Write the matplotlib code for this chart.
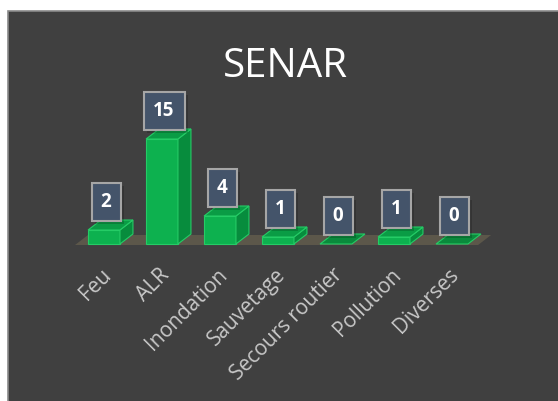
import matplotlib
matplotlib.use("Agg")
import matplotlib.pyplot as plt
from matplotlib.patches import Polygon, Rectangle

categories = ["Feu", "ALR", "Inondation", "Sauvetage", "Secours routier", "Pollution", "Diverses"]
values = [2, 15, 4, 1, 0, 1, 0]
title = "SENAR"

W, H = 558, 401
fig = plt.figure(figsize=(W / 100, H / 100), dpi=100, facecolor="white")

ax = fig.add_axes([0, 0, 1, 1])
ax.set_axis_off()
ax.patch.set_alpha(0)

# chart area background with border
ax.add_patch(Rectangle((8 / W, -0.01), 1.0, (H - 11) / H + 0.01, transform=fig.transFigure,
                       facecolor="#404040", edgecolor="#8a8a8a", linewidth=1.2, zorder=0, clip_on=False))

# pixel mapping: category 0 center at x=104px, 58px per category; value 0 at y=244px (from top), 7px per unit
px_cat, x0px = 58.0, 104.0
px_val, y0px = 7.0, 244.0
ax.set_xlim(-x0px / px_cat, (W - x0px) / px_cat)
ax.set_ylim(-(H - y0px) / px_val, y0px / px_val)

w = 0.55          # bar front width (category units)
dx = 13 / px_cat  # depth offset x
dy = 10 / px_val  # depth offset y

# floor
fl, fr = -0.5, 6.45
fy = -1 / px_val
ax.add_patch(Polygon([(fl, fy), (fr, fy), (fr + dx, fy + dy), (fl + dx, fy + dy)], closed=True,
                     facecolor="#5c574a", edgecolor="none", zorder=1))

front_c, side_c, top_c, edge_c = "#0db14f", "#078c3d", "#0a9c45", "#25cc66"
for i, v in enumerate(values):
    xl, xr = i - w / 2, i + w / 2
    if v > 0:
        ax.add_patch(Polygon([(xl, 0), (xr, 0), (xr, v), (xl, v)], closed=True,
                             facecolor=front_c, edgecolor=edge_c, linewidth=0.8, zorder=3))
        ax.add_patch(Polygon([(xr, 0), (xr + dx, dy), (xr + dx, v + dy), (xr, v)], closed=True,
                             facecolor=side_c, edgecolor=edge_c, linewidth=0.8, zorder=3))
    ax.add_patch(Polygon([(xl, v), (xr, v), (xr + dx, v + dy), (xl + dx, v + dy)], closed=True,
                         facecolor=top_c if v > 0 else "#0a8a3c", edgecolor=edge_c, linewidth=0.8, zorder=3))

# value label boxes
bh = 38 / px_val
for i, v in enumerate(values):
    s = str(v)
    bw = (29 if len(s) == 1 else 41) / px_cat
    cx = i + 2 / px_cat
    by = v + dy - 1 / px_val
    ax.add_patch(Rectangle((cx - bw / 2 + 3 / px_cat, by - 3 / px_val), bw, bh,
                           facecolor="black", alpha=0.18, edgecolor="none", zorder=4))
    ax.add_patch(Rectangle((cx - bw / 2, by), bw, bh, facecolor="#44546a",
                           edgecolor="#a6a6a6", linewidth=1.5, zorder=5))
    ax.text(cx, by + bh / 2, s, ha="center", va="center", color="white",
            fontsize=13.5, fontweight="bold", family="Open Sans", zorder=6)

# category labels
for i, c in enumerate(categories):
    ax.text(i - 0.06, -2.9, c, rotation=45, rotation_mode="anchor", ha="right", va="top",
            color="#c8c8c8", fontsize=15, family="Open Sans", zorder=6)

# title
ax.text(285.5 / px_cat - x0px / px_cat, (y0px - 77) / px_val, title, ha="center", va="baseline",
        color="white", fontsize=29, family="Open Sans", zorder=6)

fig.savefig("out.png", dpi=100, facecolor="white")
